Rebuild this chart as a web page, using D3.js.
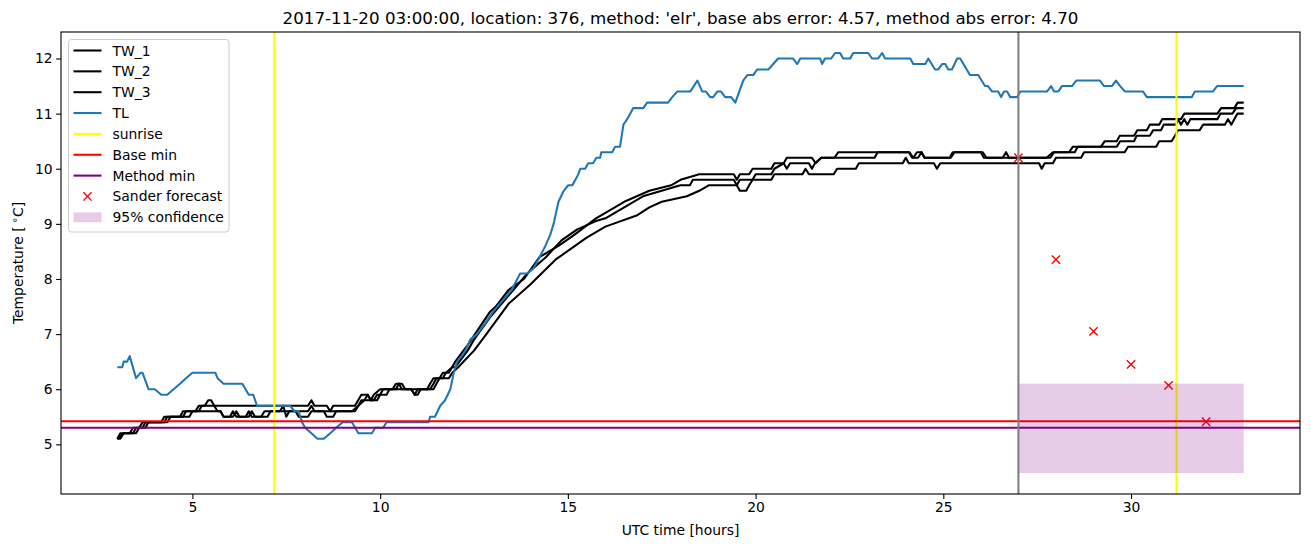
<!DOCTYPE html>
<meta charset="utf-8">
<script src="https://d3js.org/d3.v7.min.js"></script>
<style>
  body { margin: 0; background: #fff; }
  text { font-family: "DejaVu Sans", sans-serif; fill: #000; }
</style>
<div id="chart"></div>
<script>

// water temperature sensors, [hour, degC] vertices
var tw1 = [
  [3.0,5.1],[3.08,5.2],[3.33,5.2],[3.42,5.3],[3.58,5.3],[3.67,5.4],[4.17,5.4],[4.25,5.5],[4.67,5.5],[4.75,5.6],
  [5.08,5.6],[5.17,5.7],[5.33,5.7],[5.42,5.8],[5.5,5.8],[5.58,5.7],[8.08,5.7],[8.17,5.8],[8.25,5.7],[8.58,5.7],
  [8.67,5.6],[8.75,5.7],[9.33,5.7],[9.5,5.9],[9.67,5.9],[9.75,5.8],[9.83,5.9],[10.0,6.0],[10.33,6.0],[10.42,6.1],
  [10.58,6.1],[10.67,6.0],[11.25,6.0],[11.33,6.1],[11.42,6.2],[11.58,6.2],[11.67,6.3],[11.83,6.3],[12.0,6.5],
  [12.33,6.8],[12.92,7.4],[13.08,7.5],[13.42,7.8],[13.83,8.0],[14.25,8.4],[14.75,8.6],[15.17,8.8],[15.75,9.1],
  [16.5,9.4],[17.17,9.6],[17.75,9.7],[18.0,9.8],[18.5,9.9],[19.42,9.9],[19.5,9.8],[19.58,9.9],[19.83,9.9],
  [19.92,10.0],[20.42,10.0],[20.5,10.1],[20.75,10.1],[20.83,10.2],[21.5,10.2],[21.6,10.1],[21.75,10.2],
  [22.1,10.2],[22.2,10.3],[24.1,10.3],[24.2,10.2],[24.3,10.3],[24.42,10.3],[24.5,10.2],[25.2,10.2],[25.3,10.3],
  [26.05,10.3],[26.15,10.2],[26.58,10.2],[26.67,10.3],[26.75,10.2],[27.85,10.2],[27.95,10.3],[28.35,10.3],
  [28.45,10.4],[29.2,10.4],[29.3,10.5],[29.62,10.5],[29.7,10.6],[30.08,10.6],[30.17,10.7],[30.42,10.7],
  [30.5,10.8],[30.75,10.8],[30.83,10.9],[31.33,10.9],[31.42,11.0],[32.3,11.0],[32.4,11.1],[32.75,11.1],
  [32.84,11.2],[33.0,11.2]
];
var tw2 = [
  [3.0,5.1],[3.17,5.2],[3.42,5.2],[3.5,5.3],[3.75,5.3],[3.83,5.4],[4.25,5.4],[4.33,5.5],[4.75,5.5],[4.83,5.6],
  [5.17,5.6],[5.25,5.7],[5.58,5.7],[5.67,5.6],[5.75,5.6],[5.83,5.5],[6.0,5.5],[6.08,5.6],[6.17,5.5],[6.42,5.5],
  [6.5,5.6],[6.58,5.5],[6.83,5.5],[6.92,5.6],[7.33,5.6],[7.42,5.7],[7.5,5.5],[7.58,5.6],[8.08,5.6],[8.17,5.7],
  [8.25,5.6],[9.33,5.6],[9.42,5.7],[9.58,5.8],[9.67,5.9],[9.75,5.8],[9.92,5.8],[10.0,5.9],[10.08,6.0],[10.42,6.0],
  [10.5,6.1],[10.58,6.0],[10.83,6.0],[10.92,5.9],[11.0,6.0],[11.33,6.0],[11.42,6.1],[11.5,6.2],[11.67,6.2],
  [11.75,6.3],[11.92,6.4],[12.0,6.4],[12.33,6.7],[12.5,6.9],[12.92,7.3],[13.42,7.7],[13.92,8.1],[14.42,8.4],
  [14.83,8.7],[15.25,8.9],[15.75,9.05],[16.0,9.1],[16.5,9.3],[17.0,9.5],[17.5,9.6],[18.0,9.7],[18.25,9.7],
  [18.33,9.8],[19.42,9.8],[19.5,9.7],[19.58,9.8],[19.92,9.8],[20.0,9.9],[20.42,9.9],[20.5,10.0],[20.75,10.1],
  [20.83,10.0],[20.92,10.1],[21.42,10.1],[21.5,10.0],[21.58,10.1],[21.75,10.2],[23.17,10.2],[23.25,10.3],
  [24.08,10.3],[24.17,10.2],[24.33,10.2],[24.42,10.3],[24.5,10.2],[25.17,10.2],[25.25,10.3],[26.0,10.3],
  [26.08,10.2],[27.75,10.2],[27.92,10.3],[28.5,10.3],[28.58,10.4],[29.62,10.4],[29.71,10.5],[30.08,10.5],
  [30.15,10.6],[30.5,10.6],[30.59,10.7],[30.8,10.7],[30.87,10.8],[31.2,10.8],[31.25,10.9],[31.33,10.8],
  [31.42,10.9],[31.5,10.8],[31.58,10.9],[32.3,10.9],[32.38,11.0],[32.7,11.0],[32.8,11.1],[33.0,11.1]
];
var tw3 = [
  [3.0,5.1],[3.08,5.1],[3.17,5.2],[3.5,5.2],[3.58,5.3],[3.67,5.3],[3.75,5.4],[4.33,5.4],[4.42,5.5],[4.92,5.5],
  [5.0,5.6],[5.75,5.6],[5.83,5.5],[6.08,5.5],[6.17,5.6],[6.25,5.5],[6.5,5.5],[6.58,5.6],[6.67,5.5],[7.0,5.5],
  [7.08,5.6],[7.75,5.6],[7.83,5.5],[8.08,5.5],[8.17,5.6],[8.5,5.6],[8.58,5.5],[8.75,5.5],[8.83,5.6],[9.25,5.6],
  [9.42,5.7],[9.5,5.8],[9.83,5.8],[9.92,5.9],[10.17,5.9],[10.25,6.0],[10.83,6.0],[10.92,5.9],[11.0,5.9],
  [11.08,6.0],[11.42,6.0],[11.5,6.1],[11.58,6.2],[11.83,6.2],[11.92,6.3],[12.08,6.4],[12.5,6.7],[12.83,7.0],
  [13.42,7.55],[14.0,7.9],[14.67,8.35],[15.5,8.75],[16.0,8.95],[16.83,9.15],[17.17,9.3],[17.5,9.4],[18.17,9.5],
  [18.5,9.6],[18.75,9.7],[19.5,9.7],[19.58,9.6],[19.75,9.6],[19.83,9.7],[19.92,9.8],[20.42,9.8],[20.5,9.9],
  [21.25,9.9],[21.33,10.0],[21.42,9.9],[22.08,9.9],[22.17,10.0],[22.67,10.0],[22.75,10.1],[23.92,10.1],
  [24.0,10.2],[24.08,10.1],[24.75,10.1],[24.83,10.0],[24.92,10.1],[27.55,10.1],[27.62,10.0],[27.7,10.1],
  [27.92,10.1],[28.0,10.2],[28.67,10.2],[28.75,10.3],[29.83,10.3],[29.92,10.4],[30.67,10.4],[30.75,10.5],
  [31.08,10.5],[31.17,10.6],[31.25,10.7],[31.83,10.7],[31.92,10.8],[32.5,10.8],[32.58,10.9],[32.67,10.8],
  [32.75,10.9],[32.83,11.0],[33.0,11.0]
];
// air temperature
var tl = [
  [3.0,6.4],[3.13,6.4],[3.17,6.5],[3.26,6.5],[3.33,6.6],[3.5,6.2],[3.62,6.3],[3.67,6.3],[3.83,6.0],[4.0,6.0],
  [4.17,5.9],[4.33,5.9],[4.5,6.0],[4.67,6.1],[4.83,6.2],[5.0,6.3],[5.61,6.3],[5.67,6.2],[5.83,6.1],[6.33,6.1],
  [6.5,5.9],[6.62,5.9],[6.72,5.7],[7.6,5.7],[7.72,5.6],[7.83,5.6],[7.92,5.4],[8.0,5.3],[8.17,5.2],[8.33,5.1],
  [8.5,5.1],[8.67,5.2],[8.83,5.3],[9.0,5.4],[9.25,5.4],[9.42,5.2],[9.78,5.2],[9.87,5.3],[10.08,5.3],[10.17,5.4],
  [11.29,5.4],[11.33,5.5],[11.46,5.5],[11.6,5.7],[11.73,5.8],[11.87,6.0],[11.96,6.3],[12.05,6.5],[12.17,6.6],
  [12.27,6.7],[12.4,6.9],[12.58,7.0],[12.8,7.2],[13.0,7.4],[13.25,7.6],[13.5,7.8],[13.73,8.1],[13.92,8.1],
  [14.09,8.2],[14.25,8.4],[14.4,8.6],[14.53,8.8],[14.62,9.0],[14.75,9.4],[14.89,9.6],[15.01,9.7],[15.12,9.7],
  [15.2,9.8],[15.28,9.9],[15.33,10.0],[15.46,10.0],[15.54,10.1],[15.67,10.1],[15.76,10.2],[15.86,10.2],
  [15.89,10.3],[16.18,10.3],[16.26,10.4],[16.39,10.4],[16.48,10.8],[16.58,10.9],[16.66,11.0],[16.74,11.1],
  [17.01,11.1],[17.11,11.2],[17.67,11.2],[17.78,11.3],[17.91,11.4],[18.26,11.4],[18.45,11.6],[18.58,11.4],
  [18.68,11.4],[18.79,11.3],[18.87,11.3],[18.98,11.4],[19.08,11.4],[19.19,11.3],[19.35,11.3],[19.46,11.2],
  [19.67,11.6],[19.78,11.7],[19.94,11.7],[20.04,11.8],[20.34,11.8],[20.47,11.9],[20.6,12.0],[21.0,12.0],
  [21.11,11.9],[21.19,12.0],[21.72,12.0],[21.77,11.9],[21.85,12.0],[22.01,12.0],[22.12,12.1],[22.25,12.1],
  [22.33,12.0],[22.52,12.0],[22.6,12.1],[23.0,12.1],[23.1,12.0],[23.26,12.0],[23.37,12.1],[23.45,12.0],
  [24.12,12.0],[24.2,11.9],[24.52,11.9],[24.6,12.0],[24.78,11.8],[24.86,11.8],[24.97,11.9],[25.05,11.9],
  [25.13,11.8],[25.23,11.8],[25.37,12.0],[25.45,12.0],[25.71,11.7],[25.93,11.7],[26.11,11.5],[26.19,11.5],
  [26.3,11.4],[26.46,11.4],[26.54,11.3],[26.62,11.4],[26.7,11.4],[26.78,11.3],[26.97,11.3],[27.05,11.4],
  [27.76,11.4],[27.87,11.5],[27.95,11.4],[28.06,11.4],[28.16,11.5],[28.43,11.5],[28.54,11.6],[29.17,11.6],
  [29.28,11.5],[29.49,11.5],[29.6,11.6],[29.71,11.5],[29.84,11.4],[30.32,11.4],[30.42,11.3],[31.62,11.3],
  [31.7,11.4],[32.18,11.4],[32.29,11.5],[33.0,11.5]
];

var sunriseHours = [7.18, 31.21];
var baseMin = 5.42;
var methodMin = 5.30;
var forecastStart = 27;
var forecastHours = [27, 28, 29, 30, 31, 32];
var forecastTemps = [10.2, 8.35, 7.05, 6.45, 6.07, 5.41];
var confidenceRange = [4.48, 6.1];   // 95% band, from forecastStart to end
var xTicks = [5, 10, 15, 20, 25, 30];
var yTicks = [5, 6, 7, 8, 9, 10, 11, 12];

var title = "2017-11-20 03:00:00, location: 376, method: 'elr', base abs error: 4.57, method abs error: 4.70";

// set the dimensions and margins of the graph
var W = 1311, H = 547;
var margin = {top: 32, right: 11, bottom: 53, left: 61},
    width = W - margin.left - margin.right,
    height = H - margin.top - margin.bottom;

var svg = d3.select("#chart")
  .append("svg")
    .attr("width", W)
    .attr("height", H);

var g = svg.append("g")
    .attr("transform", "translate(" + margin.left + "," + margin.top + ")");

var x = d3.scaleLinear().domain([1.5, 34.5]).range([0, width]);
var y = d3.scaleLinear().domain([4.099, 12.481]).range([height, 0]);

g.append("clipPath").attr("id", "clip")
  .append("rect").attr("width", width).attr("height", height);

var plot = g.append("g").attr("clip-path", "url(#clip)");

var line = d3.line()
  .x(function(d) { return x(d[0]); })
  .y(function(d) { return y(d[1]); });

var lw = 2.08;

[tw1, tw2, tw3].forEach(function(s) {
  plot.append("path").datum(s)
    .attr("fill", "none").attr("stroke", "black").attr("stroke-width", lw)
    .attr("stroke-linejoin", "round").attr("d", line);
});
plot.append("path").datum(tl)
  .attr("fill", "none").attr("stroke", "#1f77b4").attr("stroke-width", lw)
  .attr("stroke-linejoin", "round").attr("d", line);

// sunrise
plot.selectAll(".sunrise").data(sunriseHours).enter().append("line")
  .attr("x1", function(d) { return x(d); }).attr("x2", function(d) { return x(d); })
  .attr("y1", 0).attr("y2", height)
  .attr("stroke", "yellow").attr("stroke-width", lw);

// minima
[[baseMin, "red"], [methodMin, "purple"]].forEach(function(m) {
  plot.append("line")
    .attr("x1", 0).attr("x2", width)
    .attr("y1", y(m[0])).attr("y2", y(m[0]))
    .attr("stroke", m[1]).attr("stroke-width", lw);
});

// forecast markers
var ms = 4.17;
plot.selectAll(".fc").data(forecastHours).enter().append("path")
  .attr("d", function(d, i) {
    var cx = x(d), cy = y(forecastTemps[i]);
    return "M" + (cx - ms) + "," + (cy - ms) + "L" + (cx + ms) + "," + (cy + ms) +
           "M" + (cx - ms) + "," + (cy + ms) + "L" + (cx + ms) + "," + (cy - ms);
  })
  .attr("stroke", "red").attr("stroke-width", 1.4).attr("fill", "none");

// confidence band
plot.append("rect")
  .attr("x", x(forecastStart))
  .attr("width", x(forecastHours[forecastHours.length - 1] + 1) - x(forecastStart))
  .attr("y", y(confidenceRange[1]))
  .attr("height", y(confidenceRange[0]) - y(confidenceRange[1]))
  .attr("fill", "purple").attr("fill-opacity", 0.2);

// forecast start
plot.append("line")
  .attr("x1", x(forecastStart)).attr("x2", x(forecastStart))
  .attr("y1", 0).attr("y2", height)
  .attr("stroke", "grey").attr("stroke-width", lw);

// axes
var fs = 13.9;
var xAxis = g.append("g").attr("transform", "translate(0," + height + ")")
  .call(d3.axisBottom(x).tickValues(xTicks).tickSize(4.9).tickPadding(3.5));
var yAxis = g.append("g")
  .call(d3.axisLeft(y).tickValues(yTicks).tickSize(4.9).tickPadding(3.5));
[xAxis, yAxis].forEach(function(a) {
  a.select(".domain").remove();
  a.selectAll("line").attr("stroke", "black").attr("stroke-width", 1.1);
  a.selectAll("text").style("font-family", "DejaVu Sans").style("font-size", fs + "px");
});

g.append("rect").attr("width", width).attr("height", height)
  .attr("fill", "none").attr("stroke", "black").attr("stroke-width", 1.1);

// labels
svg.append("text").attr("x", margin.left + width / 2).attr("y", 24)
  .attr("text-anchor", "middle").style("font-size", "16.7px").text(title);

svg.append("text").attr("x", margin.left + width / 2).attr("y", 535)
  .attr("text-anchor", "middle").style("font-size", fs + "px").text("UTC time [hours]");

var yl = svg.append("text")
  .attr("transform", "translate(23," + (margin.top + height / 2) + ") rotate(-90)")
  .attr("text-anchor", "middle").style("font-size", fs + "px");
yl.append("tspan").text("Temperature [");
yl.append("tspan").attr("dx", 3).attr("dy", -5).style("font-size", "10px").text("\u2218");
yl.append("tspan").attr("dy", 5).text("C]");

// legend
var legendItems = [
  {name: "TW_1", type: "line", color: "black"},
  {name: "TW_2", type: "line", color: "black"},
  {name: "TW_3", type: "line", color: "black"},
  {name: "TL", type: "line", color: "#1f77b4"},
  {name: "sunrise", type: "line", color: "yellow"},
  {name: "Base min", type: "line", color: "red"},
  {name: "Method min", type: "line", color: "purple"},
  {name: "Sander forecast", type: "marker", color: "red"},
  {name: "95% confidence", type: "patch", color: "purple"}
];
var lg = svg.append("g").attr("transform", "translate(68.5,39.5)");
lg.append("rect").attr("width", 160.5).attr("height", 192.5).attr("rx", 3)
  .attr("fill", "white").attr("fill-opacity", 0.8).attr("stroke", "#cccccc");
legendItems.forEach(function(d, i) {
  var cy = 11 + i * 20.85;
  if (d.type === "line") {
    lg.append("line").attr("x1", 5).attr("x2", 33).attr("y1", cy).attr("y2", cy)
      .attr("stroke", d.color).attr("stroke-width", lw);
  } else if (d.type === "marker") {
    lg.append("path")
      .attr("d", "M" + (19 - ms) + "," + (cy - ms) + "L" + (19 + ms) + "," + (cy + ms) +
                 "M" + (19 - ms) + "," + (cy + ms) + "L" + (19 + ms) + "," + (cy - ms))
      .attr("stroke", d.color).attr("stroke-width", 1.4);
  } else {
    lg.append("rect").attr("x", 5).attr("width", 28).attr("y", cy - 4.9).attr("height", 9.8)
      .attr("fill", d.color).attr("fill-opacity", 0.2);
  }
  lg.append("text").attr("x", 44).attr("y", cy).attr("dy", "0.36em")
    .style("font-size", fs + "px").text(d.name);
});

</script>
